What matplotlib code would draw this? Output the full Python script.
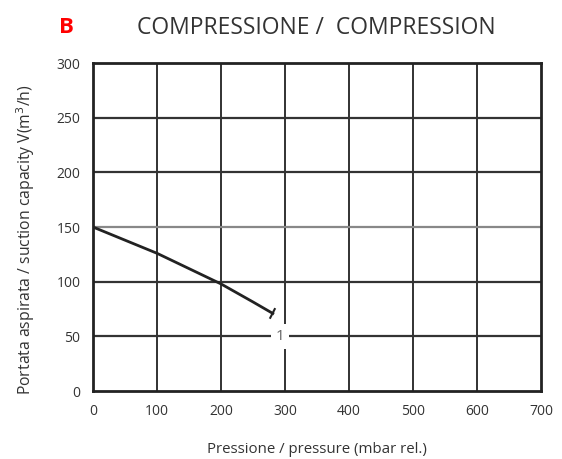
import matplotlib.pyplot as plt
import numpy as np

plt.rcParams['font.family'] = ['Open Sans', 'DejaVu Sans']

# curve 1
pressure = [0, 50, 100, 150, 200, 250, 281]
capacity = [150, 138, 126, 112, 98, 81.5, 71]

xticks = [0, 100, 200, 300, 400, 500, 600, 700]
yticks = [0, 50, 100, 150, 200, 250, 300]

fig = plt.figure(figsize=(5.62, 4.59), dpi=100)
ax = fig.add_axes([0.1655, 0.148, 0.797, 0.7147])

for x in xticks[1:-1]:
    ax.axvline(x, color='#222222', lw=1.3, zorder=1)
for y in yticks[1:-1]:
    ax.axhline(y, color='#888888' if y == 150 else '#333333', lw=1.6, zorder=1)

ax.plot(pressure, capacity, color='#222222', lw=2, zorder=3)
# small end tick
ax.plot([pressure[-1] - 4, pressure[-1] + 3], [capacity[-1] - 4, capacity[-1] + 4],
        color='#222222', lw=1.5, zorder=3)

ax.text(292, 50, '1', ha='center', va='center', fontsize=11, color='#666666',
        bbox=dict(facecolor='white', edgecolor='none', pad=3.5), zorder=4)

ax.set_xlim(0, 700)
ax.set_ylim(0, 300)
ax.set_xticks(xticks)
ax.set_yticks(yticks)
ax.tick_params(length=0, labelsize=10, colors='#333333', pad=9)
for s in ax.spines.values():
    s.set_linewidth(2)
    s.set_color('#222222')

ax.set_xlabel('Pressione / pressure (mbar rel.)', fontsize=10.8, color='#333333', labelpad=17)
ax.set_ylabel('Portata aspirata / suction capacity V(m$^3$/h)', fontsize=11.3,
              color='#333333', labelpad=16)
ax.yaxis.set_label_coords(-0.125, 0.46)

fig.text(0.118, 0.94, 'B', color='red', fontsize=16, fontweight='bold',
         ha='center', va='center')
fig.text(0.562, 0.94, 'COMPRESSIONE /  COMPRESSION', color='#333333', fontsize=16.5,
         ha='center', va='center')

fig.savefig('out.png', dpi=100)
